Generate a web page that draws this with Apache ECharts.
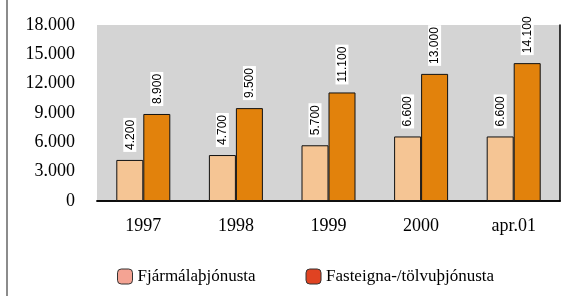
<!DOCTYPE html>
<html>
<head>
  <meta charset="utf-8">
  <title>Fjármálaþjónusta</title>
  <script src="https://cdn.jsdelivr.net/npm/echarts@6/dist/echarts.min.js"></script>
  <style type="text/css">
    body { margin: 0; background: #fff; }
    #chart { width: 564px; height: 296px; }
  </style>
</head>
<body>
<div id="chart"></div>
<script>
  // gögn
  var categories = ['1997', '1998', '1999', '2000', 'apr.01'];
  var seriesNames = ['Fjármálaþjónusta', 'Fasteigna-/tölvuþjónusta'];
  var fjarmala = [4200, 4700, 5700, 6600, 6600];
  var fasteigna = [8900, 9500, 11100, 13000, 14100];
  var yTicks = [0, 3000, 6000, 9000, 12000, 15000, 18000];

  // 4200 -> 4.200
  function fmt(v) {
    return String(v).replace(/\B(?=(\d{3})+(?!\d))/g, '.');
  }

  var serif = '"Liberation Serif", "DejaVu Serif", serif';
  var sans = '"Liberation Sans", Arial, sans-serif';

  var barLabel = {
    show: true,
    position: 'top',
    rotate: 90,
    align: 'left',
    verticalAlign: 'middle',
    distance: 8,
    backgroundColor: '#fff',
    padding: [1, 2, 0, 2],
    formatter: function (p) { return '{s|' + fmt(p.value) + '}'; },
    rich: { s: { fontFamily: sans, fontSize: 12, color: '#000' } }
  };

  var chart = echarts.init(document.getElementById('chart'));
  chart.setOption({
    animation: false,
    textStyle: { fontFamily: serif },
    graphic: [{
      type: 'line',
      shape: { x1: 7, y1: 0, x2: 7, y2: 296 },
      style: { stroke: '#666', lineWidth: 1.5 }
    }],
    grid: {
      left: 97, right: 4, top: 25, bottom: 95,
      show: true,
      backgroundColor: '#D4D4D4',
      borderWidth: 0
    },
    legend: {
      left: 112,
      top: 263,
      itemWidth: 15,
      itemHeight: 15,
      itemGap: 50,
      textStyle: { fontFamily: 'serif', fontSize: 17, color: '#000' },
      data: [
        { name: seriesNames[0], itemStyle: { color: '#F4A393', borderColor: '#333', borderWidth: 1 } },
        { name: seriesNames[1], itemStyle: { color: '#E04322', borderColor: '#333', borderWidth: 1 } }
      ]
    },
    xAxis: [{
      type: 'category',
      data: categories,
      axisLine: { lineStyle: { color: '#000', width: 1.5 } },
      axisTick: { show: false },
      axisLabel: { color: '#000', fontFamily: serif, fontSize: 18, margin: 16 }
    }, {
      type: 'category',
      position: 'top',
      data: categories,
      axisLine: { lineStyle: { color: '#000', width: 1.5 } },
      axisTick: { show: false },
      axisLabel: { show: false }
    }],
    yAxis: [{
      type: 'value',
      min: yTicks[0],
      max: yTicks[yTicks.length - 1],
      interval: 3000,
      axisLine: { show: false },
      axisTick: { show: false },
      splitLine: { show: false },
      axisLabel: {
        color: '#000', fontFamily: serif, fontSize: 18, margin: 22,
        formatter: function (v) { return fmt(v); }
      }
    }, {
      type: 'value',
      position: 'right',
      min: yTicks[0],
      max: yTicks[yTicks.length - 1],
      interval: 3000,
      axisLine: { show: true, lineStyle: { color: '#000', width: 1.5 } },
      axisTick: { show: false },
      splitLine: { show: false },
      axisLabel: { show: false }
    }],
    series: [{
      name: seriesNames[0],
      type: 'bar',
      data: fjarmala,
      barWidth: 27,
      barGap: '0%',
      itemStyle: { color: '#F5C594', borderColor: '#111', borderWidth: 1 },
      label: barLabel
    }, {
      name: seriesNames[1],
      type: 'bar',
      data: fasteigna,
      barWidth: 27,
      barGap: '0%',
      itemStyle: { color: '#E2820C', borderColor: '#111', borderWidth: 1 },
      label: barLabel
    }]
  });
</script>
</body>
</html>
